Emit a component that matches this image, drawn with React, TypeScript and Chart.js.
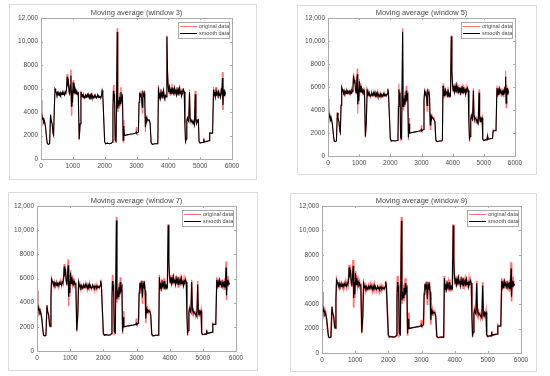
import React, { useEffect, useRef } from "react";
import { Chart, registerables } from "chart.js";

Chart.register(...registerables);

const sampleX = [
  0, 10, 30, 50, 70, 90, 110, 140, 180, 200, 240, 270, 300, 320, 350, 380, 395, 420, 440, 460,
  480, 500, 520, 540, 560, 580, 600, 620, 640, 660, 680, 700, 720, 740, 760, 780, 800, 820, 840, 860,
  880, 900, 920, 940, 955, 970, 990, 1010, 1030, 1050, 1070, 1090, 1110, 1130, 1150, 1170, 1200, 1230, 1255, 1280,
  1300, 1320, 1340, 1360, 1380, 1400, 1420, 1440, 1460, 1480, 1500, 1520, 1540, 1560, 1580, 1600, 1620, 1640, 1660, 1680,
  1700, 1720, 1740, 1760, 1780, 1800, 1820, 1840, 1860, 1880, 1900, 1920, 1940, 2000, 2030, 2080, 2150, 2220, 2245, 2260,
  2275, 2290, 2310, 2330, 2360, 2395, 2410, 2430, 2450, 2470, 2490, 2510, 2530, 2560, 2580, 2600, 2620, 2700, 2800, 2900,
  2980, 2995, 3010, 3060, 3080, 3100, 3120, 3140, 3160, 3180, 3200, 3220, 3240, 3260, 3280, 3300, 3320, 3340, 3370, 3400,
  3430, 3460, 3500, 3580, 3650, 3670, 3690, 3710, 3730, 3750, 3770, 3790, 3810, 3830, 3850, 3870, 3890, 3910, 3930, 3955,
  3975, 3995, 4015, 4035, 4055, 4075, 4095, 4115, 4135, 4155, 4175, 4195, 4215, 4235, 4255, 4275, 4295, 4315, 4335, 4355,
  4375, 4395, 4415, 4435, 4455, 4475, 4500, 4520, 4540, 4560, 4580, 4600, 4620, 4640, 4665, 4685, 4700, 4720, 4740, 4760,
  4780, 4800, 4820, 4845, 4865, 4885, 4905, 4925, 4945, 4965, 5000, 5050, 5100, 5115, 5130, 5200, 5280, 5300, 5330, 5390,
  5420, 5440, 5460, 5480, 5500, 5520, 5540, 5560, 5580, 5600, 5620, 5640, 5660, 5680, 5700, 5715, 5735, 5755, 5775, 5800,
];

const originalY = [
  5000, 2800, 4000, 3300, 3500, 3000, 3300, 2700, 1600, 1300, 1250, 1300, 3800, 3300, 3000, 2100, 2000, 4500, 6000, 5800,
  5600, 5400, 5700, 5400, 5600, 5400, 5700, 5400, 5600, 5450, 5700, 5500, 5650, 5400, 5800, 5600, 6000, 7200, 6300, 6800,
  5700, 5400, 6500, 7600, 3700, 6000, 4500, 6700, 5500, 6300, 5500, 5900, 5500, 5800, 5500, 5700, 1600, 3000, 5800, 5300,
  5500, 5200, 5400, 5100, 5300, 5500, 5200, 5400, 5600, 5200, 5400, 5100, 5500, 5300, 5600, 5200, 5400, 5100, 5300, 5500,
  5200, 5400, 5100, 5300, 5500, 5200, 5400, 5200, 5300, 5200, 5400, 5900, 5500, 1400, 1300, 1350, 1300, 1350, 1400, 4500,
  6300, 4800, 5700, 1400, 1500, 11100, 4000, 5200, 4300, 5600, 4500, 6100, 4800, 5500, 1400, 3300, 2000, 2050, 2100, 2150,
  2200, 2700, 2200, 2300, 5000, 5700, 5200, 5800, 5000, 3900, 5800, 5300, 5800, 4800, 2300, 3700, 3100, 3500, 3200, 3400,
  2900, 1300, 1250, 1300, 1300, 1350, 6300, 5000, 5700, 5100, 5900, 5300, 5700, 5100, 6000, 5300, 5100, 5500, 5200, 10500,
  7500, 6200, 5600, 6300, 5400, 6100, 5500, 6400, 5600, 6000, 5400, 6200, 5500, 6000, 5300, 6100, 5600, 6000, 5400, 6200,
  5500, 5900, 5300, 6000, 5600, 6000, 5700, 3000, 1300, 1700, 3300, 3600, 3300, 3200, 5900, 3400, 3200, 3400, 3100, 3300,
  2900, 3200, 2800, 5800, 3200, 2900, 3400, 3100, 3400, 1400, 1350, 1400, 1400, 1800, 1450, 1500, 1550, 2300, 2200, 2200,
  6100, 5300, 5900, 5200, 6100, 5400, 5800, 5200, 5900, 5300, 5800, 5100, 6000, 5400, 7400, 4200, 6200, 5300, 5900, 5500,
];

const smoothY = [
  5000, 2900, 3900, 3400, 3450, 3100, 3200, 2800, 1700, 1300, 1250, 1300, 3750, 3300, 3000, 2200, 2050, 4400, 5950, 5800,
  5650, 5450, 5650, 5450, 5600, 5450, 5650, 5450, 5600, 5500, 5650, 5500, 5600, 5450, 5700, 5600, 5900, 7000, 6400, 6600,
  5800, 5500, 6300, 7100, 4500, 5800, 4800, 6500, 5600, 6100, 5600, 5800, 5550, 5700, 5500, 5600, 1700, 3000, 5700, 5350,
  5450, 5250, 5400, 5200, 5300, 5450, 5250, 5400, 5500, 5300, 5400, 5200, 5450, 5300, 5500, 5250, 5350, 5200, 5300, 5400,
  5250, 5350, 5200, 5300, 5400, 5250, 5350, 5250, 5300, 5250, 5400, 5800, 5500, 1500, 1300, 1350, 1300, 1350, 1450, 4300,
  5800, 5000, 5500, 1600, 1500, 10800, 4300, 5000, 4500, 5300, 4700, 5700, 5000, 5300, 1600, 2800, 2000, 2050, 2100, 2150,
  2200, 2300, 2200, 2300, 4800, 5600, 5300, 5600, 5200, 4400, 5600, 5400, 5600, 5000, 2700, 3600, 3200, 3400, 3300, 3300,
  3000, 1400, 1250, 1300, 1300, 1400, 6100, 5200, 5600, 5200, 5700, 5400, 5600, 5200, 5800, 5400, 5200, 5400, 5300, 10400,
  7400, 6200, 5700, 6100, 5600, 6000, 5600, 6100, 5700, 5900, 5500, 6000, 5600, 5900, 5500, 5900, 5700, 5900, 5500, 6000,
  5600, 5800, 5400, 5800, 5700, 5900, 5700, 3000, 1500, 1700, 3200, 3500, 3300, 3200, 5700, 3500, 3300, 3300, 3200, 3200,
  3000, 3100, 2900, 5500, 3300, 3000, 3300, 3200, 3300, 1500, 1350, 1400, 1400, 1700, 1450, 1500, 1550, 2200, 2200, 2200,
  5900, 5400, 5700, 5300, 5800, 5500, 5600, 5400, 5700, 5400, 5600, 5300, 5800, 5500, 6900, 4600, 5900, 5400, 5700, 5500,
];

const xTicks = [0, 1000, 2000, 3000, 4000, 5000, 6000];
const yTicks = [0, 2000, 4000, 6000, 8000, 10000, 12000];
const panelTitles = [
  "Moving average (window 3)",
  "Moving average (window 5)",
  "Moving average (window 7)",
  "Moving average (window 9)",
];
const legendLabels = ["original data", "smooth data"];

// layout: frame [x, y, w, h], plot [left, top, right, bottom] in page px
const layouts = [
  { frame: [9, 4, 248, 176], plot: [41, 18, 232, 159], redWidth: 1 },
  { frame: [297, 5, 240, 170], plot: [328, 18, 515, 156], redWidth: 1.1 },
  { frame: [8, 192, 250, 179], plot: [37, 206, 236, 351], redWidth: 1.4 },
  { frame: [290, 193, 247, 179], plot: [322, 206, 521, 353], redWidth: 1.7 },
];

const FONT = "'Liberation Sans', Arial, sans-serif";
const TEXT = "#4a4a4a";
const BOX = "#ababab";
const RED = "#ff7070";

function Panel({ idx }: { idx: number }) {
  const ref = useRef<HTMLCanvasElement | null>(null);
  const lay = layouts[idx];
  const [fx, fy, fw, fh] = lay.frame;
  const cx = fx + 1;
  const cy = fy + 1;
  const cw = fw - 2;
  const ch = fh - 2;
  const [pl, pt, pr, pb] = lay.plot;

  useEffect(() => {
    if (!ref.current) return;
    const orig = sampleX.map((x, i) => ({ x, y: originalY[i] }));
    const smooth = sampleX.map((x, i) => ({ x, y: smoothY[i] }));
    const title = panelTitles[idx];

    const boxPlugin = {
      id: "matlabBox",
      afterDatasetsDraw(chart: any) {
        const { ctx, chartArea: a, scales } = chart;
        ctx.save();
        ctx.strokeStyle = BOX;
        ctx.lineWidth = 1;
        ctx.strokeRect(Math.round(a.left) + 0.5, Math.round(a.top) + 0.5, Math.round(a.right - a.left), Math.round(a.bottom - a.top));
        const tl = 2;
        ctx.beginPath();
        xTicks.forEach((t) => {
          const px = Math.round(scales.x.getPixelForValue(t)) + 0.5;
          ctx.moveTo(px, a.bottom);
          ctx.lineTo(px, a.bottom - tl);
          ctx.moveTo(px, a.top);
          ctx.lineTo(px, a.top + tl);
        });
        yTicks.forEach((t) => {
          const py = Math.round(scales.y.getPixelForValue(t)) + 0.5;
          ctx.moveTo(a.left, py);
          ctx.lineTo(a.left + tl, py);
          ctx.moveTo(a.right, py);
          ctx.lineTo(a.right - tl, py);
        });
        ctx.stroke();

        // title
        ctx.fillStyle = TEXT;
        ctx.font = `7.5px ${FONT}`;
        ctx.textAlign = "center";
        ctx.textBaseline = "middle";
        ctx.fillText(title, (a.left + a.right) / 2, a.top - 5.5);

        // legend
        const lw = 51;
        const lh = 16;
        const lx = Math.round(a.right) - 3 - lw;
        const ly = Math.round(a.top) + 4;
        ctx.fillStyle = "#ffffff";
        ctx.fillRect(lx, ly, lw, lh);
        ctx.strokeStyle = BOX;
        ctx.strokeRect(lx + 0.5, ly + 0.5, lw, lh);
        const colors = [RED, "#000000"];
        legendLabels.forEach((lab, i) => {
          const yy = ly + 4.5 + i * 7;
          ctx.strokeStyle = colors[i];
          ctx.lineWidth = 1;
          ctx.beginPath();
          ctx.moveTo(lx + 2, yy);
          ctx.lineTo(lx + 19, yy);
          ctx.stroke();
          ctx.fillStyle = TEXT;
          ctx.font = `5.5px ${FONT}`;
          ctx.textAlign = "left";
          ctx.textBaseline = "middle";
          ctx.fillText(lab, lx + 21, yy);
        });
        ctx.restore();
      },
    };

    const chart = new Chart(ref.current, {
      type: "line",
      data: {
        datasets: [
          {
            label: legendLabels[1],
            data: smooth,
            borderColor: "#000000",
            borderWidth: 1.1,
            pointRadius: 0,
            tension: 0,
            order: 1,
          },
          {
            label: legendLabels[0],
            data: orig,
            borderColor: RED,
            borderWidth: lay.redWidth,
            pointRadius: 0,
            tension: 0,
            order: 2,
          },
        ],
      },
      options: {
        responsive: false,
        animation: false,
        events: [],
        layout: {
          padding: { left: 0, top: pt - cy, right: cx + cw - pr, bottom: 0 },
        },
        plugins: { legend: { display: false }, title: { display: false }, tooltip: { enabled: false } },
        scales: {
          x: {
            type: "linear",
            min: 0,
            max: 6000,
            afterFit(scale: any) {
              scale.height = cy + ch - pb;
            },
            afterBuildTicks(scale: any) {
              scale.ticks = xTicks.map((v) => ({ value: v }));
            },
            grid: { display: false, drawTicks: false },
            border: { display: false },
            ticks: {
              padding: 3,
              autoSkip: false,
              maxRotation: 0,
              color: TEXT,
              font: { family: FONT, size: 6.5 },
              callback: (v: any) => String(v),
            },
          },
          y: {
            type: "linear",
            min: 0,
            max: 12000,
            afterFit(scale: any) {
              scale.width = pl - cx;
            },
            afterBuildTicks(scale: any) {
              scale.ticks = yTicks.map((v) => ({ value: v }));
            },
            grid: { display: false, drawTicks: false },
            border: { display: false },
            ticks: {
              padding: 3,
              autoSkip: false,
              color: TEXT,
              font: { family: FONT, size: 6.5 },
              callback: (v: any) => (Number(v) >= 10000 ? Number(v).toLocaleString("en-US") : String(v)),
            },
          },
        },
      },
      plugins: [boxPlugin],
    } as any);
    return () => chart.destroy();
  }, [idx]);

  return (
    <div
      style={{
        position: "absolute",
        left: fx,
        top: fy,
        width: fw,
        height: fh,
        boxSizing: "border-box",
        border: "1px solid #dcdcdc",
        background: "#fff",
      }}
    >
      <canvas ref={ref} width={cw} height={ch} style={{ display: "block", width: cw, height: ch }} />
    </div>
  );
}

export default function App() {
  return (
    <div style={{ position: "fixed", left: 0, top: 0, width: 550, height: 376, background: "#fff" }}>
      {layouts.map((_, i) => (
        <Panel key={i} idx={i} />
      ))}
    </div>
  );
}
